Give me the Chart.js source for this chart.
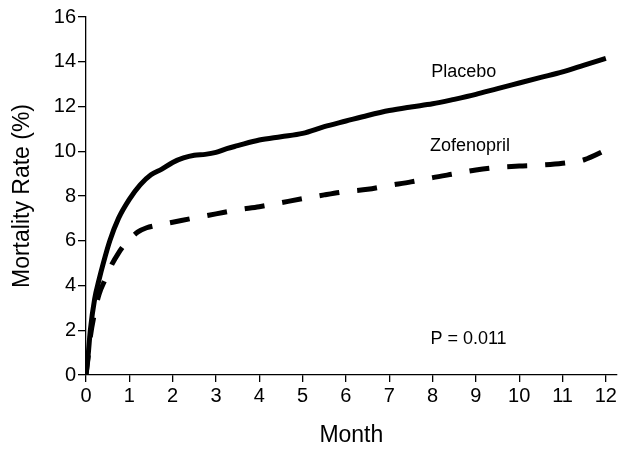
<!DOCTYPE html>
<html>
<head>
<meta charset="utf-8">
<script src="https://cdn.jsdelivr.net/npm/chart.js@4/dist/chart.umd.min.js"></script>
<style>
  html, body { margin: 0; padding: 0; background: #fff; }
  #wrap { width: 619px; height: 449px; position: relative; }
</style>
</head>
<body>
<div id="wrap"><canvas id="c" width="619" height="449"></canvas></div>
<script>
// ---- data ----
const placeboMonths = [0, 0.05, 0.1, 0.2, 0.3, 0.4, 0.55, 0.75, 1.0, 1.25, 1.5, 1.75, 2.0, 2.25, 2.5, 2.75, 3.0, 3.25, 3.5, 4.0, 4.5, 5.0, 5.5, 6.0, 6.5, 7.0, 7.5, 8.0, 8.5, 9.0, 9.5, 10.0, 10.5, 11.0, 11.5, 12.0];
const placeboRate   = [0, 0.9, 2.0, 3.4, 4.25, 5.0, 6.0, 7.0, 7.85, 8.5, 8.95, 9.2, 9.5, 9.7, 9.82, 9.86, 9.95, 10.12, 10.25, 10.5, 10.65, 10.8, 11.1, 11.35, 11.6, 11.82, 11.98, 12.12, 12.32, 12.54, 12.8, 13.05, 13.3, 13.55, 13.85, 14.15];

const zofenoprilMonths = [0, 0.05, 0.1, 0.2, 0.3, 0.45, 0.6, 0.75, 0.9, 1.05, 1.2, 1.4, 1.6, 2.0, 2.5, 3.0, 3.5, 4.0, 4.5, 5.0, 5.5, 6.0, 6.5, 7.0, 7.5, 8.0, 8.5, 9.0, 9.5, 10.0, 10.5, 11.0, 11.5, 12.0];
const zofenoprilRate   = [0, 0.8, 1.7, 2.8, 3.6, 4.3, 4.95, 5.45, 5.85, 6.15, 6.4, 6.58, 6.68, 6.83, 7.02, 7.2, 7.38, 7.52, 7.7, 7.88, 8.05, 8.2, 8.3, 8.47, 8.63, 8.82, 8.99, 9.16, 9.28, 9.34, 9.38, 9.46, 9.62, 10.05];

const xTicks = [0, 1, 2, 3, 4, 5, 6, 7, 8, 9, 10, 11, 12];
const yTicks = [0, 2, 4, 6, 8, 10, 12, 14, 16];

const seriesNames = ['Placebo', 'Zofenopril'];
const pValueText = 'P = 0.011';
const xTitle = 'Month';
const yTitle = 'Mortality Rate (%)';

// ---- chart ----
const FONT = "'Liberation Sans', Arial, Helvetica, sans-serif";

const toPoints = (xs, ys) => xs.map((x, i) => ({ x: x, y: ys[i] }));

// text annotations placed in data units
const annotations = [
  { text: seriesNames[0], x: 7.97, y: 13.55 },
  { text: seriesNames[1], x: 7.94, y: 10.23 },
  { text: pValueText,     x: 7.95, y: 1.6 }
];

const annotationPlugin = {
  id: 'annot',
  afterDatasetsDraw(chart) {
    const ctx = chart.ctx;
    const xs = chart.scales.x, ys = chart.scales.y;
    ctx.save();
    ctx.fillStyle = '#000';
    ctx.font = '18px ' + FONT;
    ctx.textAlign = 'left';
    ctx.textBaseline = 'middle';
    annotations.forEach(a => {
      ctx.fillText(a.text, xs.getPixelForValue(a.x), ys.getPixelForValue(a.y));
    });
    ctx.restore();
  }
};

new Chart(document.getElementById('c'), {
  type: 'line',
  data: {
    datasets: [
      {
        label: seriesNames[0],
        data: toPoints(placeboMonths, placeboRate),
        borderColor: '#000',
        borderWidth: 5,
        pointRadius: 0,
        cubicInterpolationMode: 'monotone',
        fill: false
      },
      {
        label: seriesNames[1],
        data: toPoints(zofenoprilMonths, zofenoprilRate),
        borderColor: '#000',
        borderWidth: 5,
        borderDash: [20, 18],
        borderCapStyle: 'butt',
        pointRadius: 0,
        cubicInterpolationMode: 'monotone',
        fill: false
      }
    ]
  },
  options: {
    responsive: false,
    animation: false,
    devicePixelRatio: 1,
    layout: { padding: { top: 17, right: 1, left: 0, bottom: 0 } },
    plugins: { legend: { display: false }, tooltip: { enabled: false } },
    scales: {
      x: {
        type: 'linear',
        min: 0,
        max: 12.25,
        afterBuildTicks: (axis) => { axis.ticks = xTicks.map(v => ({ value: v })); },
        afterFit: (axis) => { axis.height = 74; },
        border: { display: true, color: '#000', width: 1.3 },
        grid: { display: true, drawOnChartArea: false, drawTicks: true, tickLength: 7, color: '#000', lineWidth: 1.3 },
        ticks: { color: '#000', font: { family: FONT, size: 20 }, padding: 2, maxRotation: 0, autoSkip: false },
        title: { display: true, text: xTitle, color: '#000', font: { family: FONT, size: 23 }, padding: { top: 0, bottom: 0 } }
      },
      y: {
        type: 'linear',
        min: 0,
        max: 16,
        afterBuildTicks: (axis) => { axis.ticks = yTicks.map(v => ({ value: v })); },
        afterFit: (axis) => { axis.width = 86; },
        border: { display: true, color: '#000', width: 1.3 },
        grid: { display: true, drawOnChartArea: false, drawTicks: true, tickLength: 8, color: '#000', lineWidth: 1.3 },
        ticks: { color: '#000', font: { family: FONT, size: 20 }, padding: 2, autoSkip: false },
        title: { display: true, text: yTitle, color: '#000', font: { family: FONT, size: 23 }, padding: { top: 9, bottom: 0 } }
      }
    }
  },
  plugins: [annotationPlugin]
});
</script>
</body>
</html>
